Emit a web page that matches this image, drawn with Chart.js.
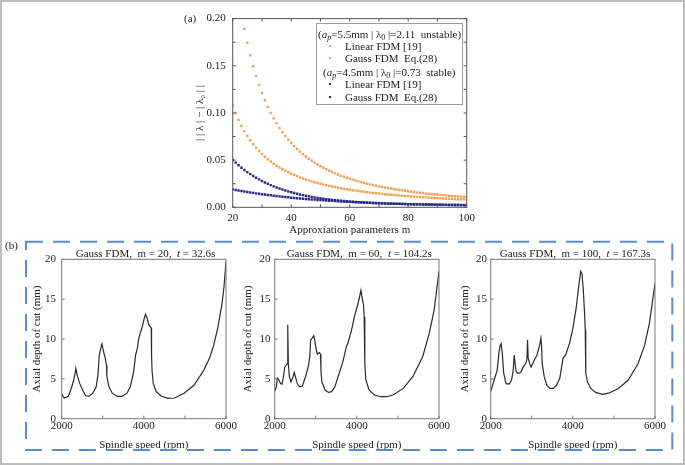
<!DOCTYPE html>
<html>
<head>
<meta charset="utf-8">
<script src="https://cdn.jsdelivr.net/npm/chart.js@4.4.0/dist/chart.umd.min.js"></script>
<style>
    html, body { margin: 0; padding: 0; background: #fff; }
    body { position: relative; width: 685px; height: 467px; overflow: hidden;
           font-family: "Liberation Serif", "Times New Roman", serif; color: #222; }
    .abs { position: absolute; }
    #frame { left: 0; top: 0; width: 681px; height: 461px; border: 2px solid #bdbdbd; }
    canvas { position: absolute; }
    .lbl { position: absolute; font-size: 11px; line-height: 14px; white-space: nowrap; }
    .ptitle { position: absolute; font-size: 11px; line-height: 14px; text-align: center; white-space: nowrap; }
    #legend { position: absolute; left: 316px; top: 22.7px; width: 145px; height: 80.6px;
              border: 1px solid #9a9a9a; background: #fff; }
    #legend .row { position: absolute; font-size: 11px; line-height: 14px; white-space: nowrap; }
    #legend .mk { position: absolute; width: 2px; height: 2px; }
    sub { font-size: 8px; vertical-align: -2px; line-height: 0; }
</style>
</head>
<body>
<div id="frame" class="abs"></div>

<canvas id="chartA" width="300" height="235" style="left:180px; top:5px;"></canvas>
<canvas id="chartB1" width="210" height="210" style="left:28px; top:245px;"></canvas>
<canvas id="chartB2" width="210" height="210" style="left:241.3px; top:245px;"></canvas>
<canvas id="chartB3" width="210" height="210" style="left:457.3px; top:245px;"></canvas>

<svg class="abs" style="left:0; top:0;" width="685" height="467">
    <rect x="26" y="241.7" width="646.3" height="208.3" fill="none" stroke="#5a8ad0" stroke-width="2" stroke-dasharray="17 10"></rect>
</svg>

<div class="lbl" style="left:184px; top:11px;">(a)</div>
<div class="lbl" style="left:5px; top:238px;">(b)</div>

<div id="legend">
    <div class="row" style="left:1px; top:3.5px;">(<i>a<sub>p</sub></i>=5.5mm | λ<sub>0</sub> |=2.11&nbsp; unstable)</div>
    <div class="mk" style="left:12px; top:21px; background:#f0a050;"></div>
    <div class="row" style="left:28px; top:15px;">Linear FDM [19]</div>
    <div class="mk" style="left:12px; top:33.5px; background:#f0a050;"></div>
    <div class="row" style="left:28px; top:27.5px;">Gauss FDM&nbsp; Eq.(28)</div>
    <div class="row" style="left:6px; top:41px;">(<i>a<sub>p</sub></i>=4.5mm | λ<sub>0</sub> |=0.73&nbsp; stable)</div>
    <div class="mk" style="left:12px; top:59.5px; background:#262690;"></div>
    <div class="row" style="left:28px; top:53.5px;">Linear FDM [19]</div>
    <div class="mk" style="left:12px; top:72px; background:#262690;"></div>
    <div class="row" style="left:28px; top:66px;">Gauss FDM&nbsp; Eq.(28)</div>
</div>

<div class="ptitle" style="left:61.7px; width:167.6px; top:245.7px;">Gauss FDM,&nbsp; m = 20,&nbsp; <i>t</i> = 32.6s</div>
<div class="ptitle" style="left:275px; width:168.3px; top:245.7px;">Gauss FDM,&nbsp; m = 60,&nbsp; <i>t</i> = 104.2s</div>
<div class="ptitle" style="left:491px; width:168px; top:245.7px;">Gauss FDM,&nbsp; m = 100,&nbsp; <i>t</i> = 167.3s</div>

<script>
// ---- panel (a): eigenvalue error vs approximation parameter m ----
const mValues = [20,21,22,23,24,25,26,27,28,29,30,31,32,33,34,35,36,37,38,39,40,41,42,43,44,45,46,47,48,49,50,
    51,52,53,54,55,56,57,58,59,60,61,62,63,64,65,66,67,68,69,70,71,72,73,74,75,76,77,78,79,80,
    81,82,83,84,85,86,87,88,89,90,91,92,93,94,95,96,97,98,99,100];

// a_p = 5.5mm (unstable)
const linearUnstable = [null,null,null,null,0.1892,0.1744,0.1612,0.1495,0.1390,0.1296,0.1211,0.1134,0.1064,0.1001,0.0943,0.0890,0.0841,0.0796,0.0755,0.0717,0.0681,
    0.0648,0.0618,0.0590,0.0563,0.0538,0.0515,0.0493,0.0473,0.0454,0.0436,0.0419,0.0403,0.0388,0.0374,0.0360,0.0348,0.0335,0.0324,0.0313,0.0303,
    0.0293,0.0284,0.0275,0.0266,0.0258,0.0250,0.0243,0.0236,0.0229,0.0222,0.0216,0.0210,0.0205,0.0199,0.0194,0.0189,0.0184,0.0179,0.0175,0.0170,
    0.0166,0.0162,0.0158,0.0154,0.0151,0.0147,0.0144,0.0141,0.0138,0.0135,0.0132,0.0129,0.0126,0.0123,0.0121,0.0118,0.0116,0.0113,0.0111,0.0109];
const gaussUnstable = [0.1080,0.0999,0.0927,0.0864,0.0807,0.0756,0.0710,0.0668,0.0630,0.0596,0.0565,0.0536,0.0509,0.0485,0.0462,0.0441,0.0422,0.0404,0.0387,0.0371,0.0356,
    0.0342,0.0330,0.0317,0.0306,0.0295,0.0285,0.0275,0.0266,0.0257,0.0249,0.0242,0.0234,0.0227,0.0220,0.0214,0.0208,0.0202,0.0197,0.0191,0.0186,
    0.0181,0.0177,0.0172,0.0168,0.0164,0.0160,0.0156,0.0152,0.0149,0.0146,0.0142,0.0139,0.0136,0.0133,0.0130,0.0128,0.0125,0.0122,0.0120,0.0118,
    0.0115,0.0113,0.0111,0.0109,0.0107,0.0105,0.0103,0.0101,0.0099,0.0097,0.0096,0.0094,0.0092,0.0091,0.0089,0.0088,0.0086,0.0085,0.0084,0.0082];

// a_p = 4.5mm (stable)
const linearStable = [0.0502,0.0473,0.0446,0.0420,0.0396,0.0373,0.0352,0.0332,0.0313,0.0296,0.0279,0.0263,0.0249,0.0235,0.0222,0.0210,0.0199,0.0188,0.0178,0.0168,0.0160,
    0.0151,0.0143,0.0136,0.0129,0.0123,0.0117,0.0111,0.0105,0.0100,0.0096,0.0091,0.0087,0.0083,0.0079,0.0076,0.0073,0.0070,0.0067,0.0064,0.0061,
    0.0059,0.0057,0.0055,0.0053,0.0051,0.0049,0.0047,0.0046,0.0044,0.0043,0.0042,0.0041,0.0039,0.0038,0.0037,0.0036,0.0036,0.0035,0.0034,0.0033,
    0.0033,0.0032,0.0031,0.0031,0.0030,0.0030,0.0029,0.0029,0.0028,0.0028,0.0027,0.0027,0.0026,0.0026,0.0026,0.0025,0.0025,0.0025,0.0024,0.0024];
const gaussStable = [0.0190,0.0184,0.0178,0.0173,0.0168,0.0162,0.0157,0.0153,0.0148,0.0143,0.0139,0.0135,0.0131,0.0127,0.0123,0.0119,0.0116,0.0112,0.0109,0.0106,0.0102,
    0.0099,0.0096,0.0094,0.0091,0.0088,0.0086,0.0083,0.0081,0.0078,0.0076,0.0074,0.0072,0.0070,0.0068,0.0066,0.0064,0.0062,0.0061,0.0059,0.0057,
    0.0056,0.0054,0.0053,0.0052,0.0050,0.0049,0.0048,0.0046,0.0045,0.0044,0.0043,0.0042,0.0041,0.0040,0.0039,0.0038,0.0037,0.0036,0.0035,0.0034,
    0.0034,0.0033,0.0032,0.0031,0.0031,0.0030,0.0029,0.0029,0.0028,0.0027,0.0027,0.0026,0.0026,0.0025,0.0025,0.0024,0.0024,0.0023,0.0023,0.0023];

const aTickX = [20,30,40,50,60,70,80,90,100];
const aTickY = [0,0.025,0.05,0.075,0.1,0.125,0.15,0.175,0.2];

// ---- panel (b): stability lobes ----
const speedM20 = [2000,2060,2160,2220,2280,2320,2345,2375,2440,2520,2580,2660,2760,2840,2885,2915,2950,2980,3020,3060,3090,3100,3150,3230,3350,3470,
    3590,3670,3750,3800,3840,3870,3910,3960,4000,4040,4080,4120,4180,4185,4190,4200,4230,4300,4420,4580,4750,4980,5220,5460,5600,5700,5800,5900,5950,6000];
const depthM20 = [3.1,2.6,2.8,3.6,4.6,5.5,6.3,5.5,4.4,3.5,2.9,2.8,3.2,4.0,5.6,8.0,8.8,9.4,8.4,7.6,6.7,5.3,4.0,3.2,2.8,2.8,
    3.2,4.0,5.8,8.0,8.8,9.9,10.7,11.5,12.4,13.1,12.6,11.8,11.4,10.6,8.0,6.0,4.4,3.4,2.85,2.55,2.6,3.2,4.2,6.1,7.6,9.2,11.4,14.3,16.5,19.7];

const speedM60 = [2000,2040,2063,2100,2143,2182,2214,2246,2280,2305,2318,2332,2356,2396,2436,2475,2515,2554,2610,2673,2752,2816,2855,2875,2911,2950,
    2974,3006,3038,3085,3117,3125,3149,3228,3307,3386,3465,3545,3663,3743,3782,3861,3941,4020,4067,4099,4131,4162,4178,4194,4218,4297,4416,
    4574,4733,4891,5129,5366,5604,5762,5881,6000];
const depthM60 = [3.4,4.0,5.1,4.9,4.4,4.35,5.3,6.5,6.7,6.9,11.8,6.9,5.3,4.6,5.1,5.8,5.1,4.35,4.0,4.1,5.3,6.5,7.8,9.9,10.1,10.4,
    9.9,8.8,8.1,8.3,8.1,6.1,4.6,3.6,3.3,3.4,4.0,5.3,7.2,9.0,9.5,10.9,12.8,14.3,15.3,16.1,15.1,14.3,12.8,6.9,4.9,3.6,3.0,
    2.76,2.76,3.0,3.8,5.3,7.8,10.7,13.6,18.5];

const speedM100 = [2000,2056,2111,2159,2198,2230,2254,2286,2317,2373,2452,2508,2548,2571,2595,2619,2667,2730,2794,2849,2881,2897,2913,2952,2984,
    3048,3127,3191,3222,3238,3254,3302,3365,3444,3524,3603,3683,3762,3825,3921,4000,4079,4143,4191,4222,4254,4286,4302,4310,4318,4357,4437,
    4556,4714,4873,5111,5349,5587,5746,5865,6000];
const depthM100 = [3.4,4.4,5.3,6.1,8.2,9.2,9.4,8.0,5.7,4.4,4.35,4.85,6.1,8.0,6.9,5.9,5.7,5.8,6.5,6.9,7.4,9.9,7.6,6.9,6.5,
    7.2,8.0,9.2,10.1,9.2,6.9,5.3,4.2,3.8,3.8,4.2,5.1,7.6,8.0,9.5,11.3,13.8,16.6,18.5,18.2,16.2,13.2,11.1,7.8,5.7,4.6,3.8,
    3.3,3.05,3.2,3.8,4.85,6.9,9.2,12.0,17.0];

const bTickX = [2000,3000,4000,5000,6000];
const bTickY = [0,5,10,15,20];

const SERIF = '"Liberation Serif", "Times New Roman", serif';
const ORANGE = '#f0a050';
const NAVY = '#262690';

// frame around the plot area plus inward tick marks
const frameTicks = {
    id: 'frameTicks',
    afterDatasetsDraw (chart, args, opts) {
        const { ctx, chartArea: a } = chart;
        const x = chart.scales.x;
        const y = chart.scales.y;
        ctx.save();
        ctx.strokeStyle = opts.color;
        ctx.lineWidth = 1;
        ctx.strokeRect(a.left, a.top, a.right - a.left, a.bottom - a.top);
        ctx.beginPath();
        opts.xTicks.forEach((v) => {
            const px = x.getPixelForValue(v);
            ctx.moveTo(px, a.bottom); ctx.lineTo(px, a.bottom - opts.len);
            if (opts.mirror) { ctx.moveTo(px, a.top); ctx.lineTo(px, a.top + opts.len); }
        });
        opts.yTicks.forEach((v) => {
            const py = y.getPixelForValue(v);
            ctx.moveTo(a.left, py); ctx.lineTo(a.left + opts.len, py);
            if (opts.mirror) { ctx.moveTo(a.right, py); ctx.lineTo(a.right - opts.len, py); }
        });
        ctx.stroke();
        ctx.restore();
    }
};

function pairs (xs, ys) {
    return xs.map((v, i) => ({ x: v, y: ys[i] }));
}

function dotSet (label, values, color) {
    return {
        label: label,
        data: pairs(mValues, values),
        pointStyle: 'rect',
        pointRadius: 1.7,
        pointBorderWidth: 0,
        backgroundColor: color,
        borderColor: color,
        showLine: false
    };
}

const noGrid = { display: false, drawTicks: false };

new Chart(document.getElementById('chartA'), {
    type: 'scatter',
    data: {
        datasets: [
            dotSet('Linear FDM [19] (unstable)', linearUnstable, ORANGE),
            dotSet('Gauss FDM Eq.(28) (unstable)', gaussUnstable, ORANGE),
            dotSet('Linear FDM [19] (stable)', linearStable, NAVY),
            dotSet('Gauss FDM Eq.(28) (stable)', gaussStable, NAVY)
        ]
    },
    options: {
        responsive: false,
        animation: false,
        events: [],
        layout: { padding: { left: 0, top: 12.3, right: 13.3, bottom: 0 } },
        plugins: {
            legend: { display: false },
            tooltip: { enabled: false },
            frameTicks: { color: '#555', len: 3, mirror: true, xTicks: aTickX, yTicks: aTickY }
        },
        scales: {
            x: {
                type: 'linear', min: 20, max: 100,
                ticks: { stepSize: 20, padding: 4, maxRotation: 0, color: '#222', font: { family: SERIF, size: 11 } },
                grid: noGrid,
                border: { display: false },
                title: { display: true, text: 'Approxiation parameters m', color: '#222',
                         font: { family: SERIF, size: 11 }, padding: { top: 0, bottom: 3.4 } },
                afterFit: (s) => { s.height = 32.7; }
            },
            y: {
                min: 0, max: 0.2,
                ticks: { stepSize: 0.05, padding: 7, color: '#222', font: { family: SERIF, size: 11 },
                         callback: (v) => v.toFixed(2) },
                grid: noGrid,
                border: { display: false },
                title: { display: true, text: '| | λ | − | λ₀ | |', color: '#222',
                         font: { family: SERIF, size: 11 }, padding: { top: 13.4, bottom: 0 } },
                afterFit: (s) => { s.width = 52.7; }
            }
        }
    },
    plugins: [frameTicks]
});

function lobeChart (id, speeds, depths, cfg) {
    new Chart(document.getElementById(id), {
        type: 'scatter',
        data: {
            datasets: [{
                data: pairs(speeds, depths),
                showLine: true,
                borderColor: '#2a2a2a',
                borderWidth: 1.2,
                pointRadius: 0,
                tension: 0
            }]
        },
        options: {
            responsive: false,
            animation: false,
            events: [],
            layout: { padding: { left: 0, top: 14.3, right: cfg.right, bottom: 0 } },
            plugins: {
                legend: { display: false },
                tooltip: { enabled: false },
                frameTicks: { color: '#777', len: 3, mirror: false, xTicks: bTickX, yTicks: bTickY }
            },
            scales: {
                x: {
                    type: 'linear', min: 2000, max: 6000,
                    ticks: { stepSize: 2000, padding: 1, maxRotation: 0, color: '#222',
                             font: { family: SERIF, size: 11 }, callback: (v) => String(v) },
                    grid: noGrid,
                    border: { display: false },
                    title: { display: true, text: 'Spindle speed (rpm)', color: '#222',
                             font: { family: SERIF, size: 11 }, padding: { top: 0, bottom: 3.4 } },
                    afterFit: (s) => { s.height = 36.3; }
                },
                y: {
                    min: 0, max: 20,
                    ticks: { stepSize: 5, padding: cfg.tickPad, color: '#222', font: { family: SERIF, size: 11 } },
                    grid: noGrid,
                    border: { display: false },
                    title: { display: true, text: 'Axial depth of cut (mm)', color: '#222',
                             font: { family: SERIF, size: 11 }, padding: { top: cfg.titlePad, bottom: 0 } },
                    afterFit: (s) => { s.width = 33.7; }
                }
            }
        },
        plugins: [frameTicks]
    });
}

lobeChart('chartB1', speedM20, depthM20, { right: 8.7, tickPad: 5.7, titlePad: 2.1 });
lobeChart('chartB2', speedM60, depthM60, { right: 8.0, tickPad: 4.3, titlePad: 0.4 });
lobeChart('chartB3', speedM100, depthM100, { right: 8.3, tickPad: 3.7, titlePad: 1.1 });
</script>
</body>
</html>
